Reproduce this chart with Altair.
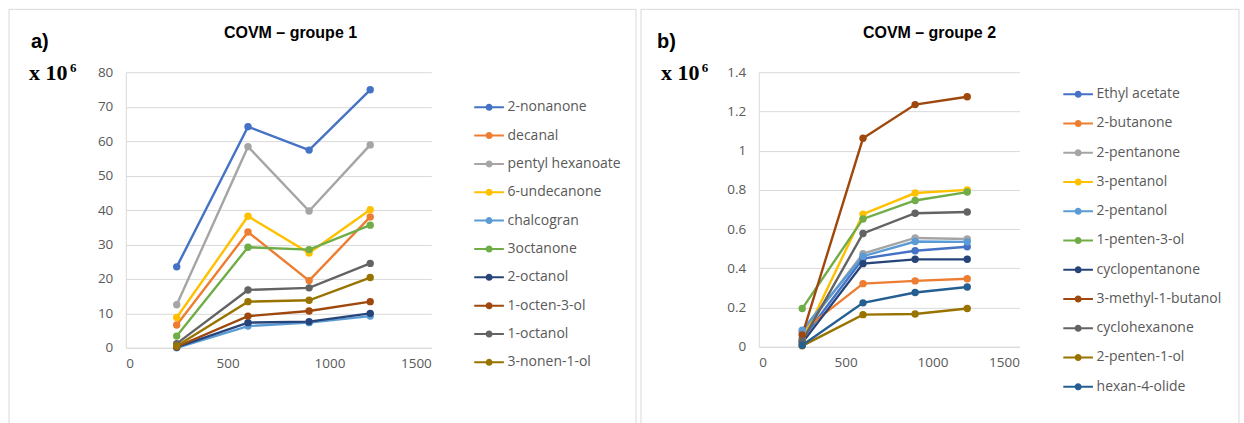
import altair as alt
import pandas as pd

x_vals = [250, 600, 900, 1200]

names1 = ["2-nonanone", "decanal", "pentyl hexanoate", "6-undecanone", "chalcogran",
          "3octanone", "2-octanol", "1-octen-3-ol", "1-octanol", "3-nonen-1-ol"]
vals1 = [
    [23.5, 64.2, 57.4, 74.9],
    [6.6, 33.6, 19.5, 38.0],
    [12.5, 58.4, 39.7, 58.9],
    [8.8, 38.2, 27.5, 40.1],
    [0.0, 6.3, 7.3, 9.2],
    [3.4, 29.2, 28.5, 35.6],
    [0.2, 7.3, 7.6, 10.0],
    [0.3, 9.2, 10.7, 13.4],
    [1.2, 16.8, 17.4, 24.5],
    [0.5, 13.4, 13.8, 20.4],
]

names2 = ["Ethyl acetate", "2-butanone", "2-pentanone", "3-pentanol", "2-pentanol",
          "1-penten-3-ol", "cyclopentanone", "3-methyl-1-butanol", "cyclohexanone",
          "2-penten-1-ol", "hexan-4-olide"]
vals2 = [
    [0.04, 0.45, 0.49, 0.51],
    [0.08, 0.322, 0.336, 0.347],
    [0.07, 0.475, 0.555, 0.55],
    [0.03, 0.676, 0.784, 0.80],
    [0.085, 0.462, 0.537, 0.535],
    [0.195, 0.652, 0.746, 0.789],
    [0.02, 0.424, 0.446, 0.446],
    [0.06, 1.063, 1.235, 1.275],
    [0.03, 0.578, 0.681, 0.687],
    [0.005, 0.164, 0.167, 0.195],
    [0.008, 0.224, 0.277, 0.305],
]

palette = ["#4472C4", "#ED7D31", "#A5A5A5", "#FFC000", "#5B9BD5", "#70AD47",
           "#264478", "#9E480E", "#636363", "#997300", "#255E91"]

GRID = "#d9d9d9"
LABEL = "#595959"
FONT = "Open Sans"
SYM = ("M-1.1,0H1.1M0.185,0A0.185,0.185 0 1,1 -0.185,0A0.185,0.185 0 1,1 0.185,0"
       "M0.07,0A0.07,0.07 0 1,1 -0.07,0A0.07,0.07 0 1,1 0.07,0")


def long_df(names, vals):
    rows = []
    for n, v in zip(names, vals):
        for xv, yv in zip(x_vals, v):
            rows.append({"temp": xv, "val": yv, "serie": n})
    return pd.DataFrame(rows)


def panel(names, vals, w, h, ymax, ystep, yfmt, leg_x, leg_y, row_pad,
          letter, title, border_x, border_x2, letter_x, title_x, x10_x):
    df = long_df(names, vals)
    nvals = int(round(ymax / ystep))
    yticks = [round(i * ystep, 4) for i in range(nvals + 1)]
    xenc = alt.X("temp:Q", scale=alt.Scale(domain=[0, 1500], nice=False),
                 axis=alt.Axis(values=[0, 500, 1000, 1500], format="d", title=None,
                               grid=False, ticks=False, domain=True, domainColor=GRID,
                               labelColor=LABEL, labelFont=FONT, labelFontSize=13.5,
                               labelPadding=9))
    yenc = alt.Y("val:Q", scale=alt.Scale(domain=[0, ymax], nice=False),
                 axis=alt.Axis(values=yticks, format=yfmt, title=None, grid=True,
                               gridColor=GRID, ticks=False, domain=True,
                               domainColor=GRID, labelColor=LABEL, labelFont=FONT,
                               labelFontSize=13.5, labelPadding=13))
    cscale = alt.Scale(domain=names, range=palette[:len(names)])
    legend = alt.Legend(title=None, orient="none", legendX=leg_x, legendY=leg_y,
                        direction="vertical", padding=0, rowPadding=row_pad,
                        symbolType=SYM, symbolSize=729, symbolStrokeWidth=2,
                        symbolOpacity=1, labelOffset=4, labelFont=FONT,
                        labelFontSize=14, labelColor=LABEL, labelLimit=300)
    base = alt.Chart(df)
    lines = base.mark_line(strokeWidth=2.4).encode(
        x=xenc, y=yenc,
        color=alt.Color("serie:N", scale=cscale, legend=legend, sort=names),
        detail="serie:N")
    pts = base.mark_circle(size=55, opacity=1).encode(
        x=xenc, y=yenc,
        color=alt.Color("serie:N", scale=cscale, legend=legend, sort=names))

    one = pd.DataFrame({"t": [letter], "u": [title], "v": ["x 10"], "s": ["6"]})
    tb = alt.Chart(one)
    border = tb.mark_rect(fill="transparent", stroke=GRID, strokeWidth=1).encode(
        x=alt.value(border_x), x2=alt.value(border_x2),
        y=alt.value(-63), y2=alt.value(362))
    letter_t = tb.mark_text(font="Liberation Sans", fontWeight="bold",
                            fontSize=20, align="left", baseline="alphabetic",
                            color="#000000").encode(
        x=alt.value(letter_x), y=alt.value(-24), text="t:N")
    title_t = tb.mark_text(font="Liberation Sans", fontWeight="bold",
                           fontSize=16, align="center", baseline="alphabetic",
                           color="#000000").encode(
        x=alt.value(title_x), y=alt.value(-34), text="u:N")
    x10_t = tb.mark_text(font="Liberation Serif", fontWeight="bold", fontSize=22,
                         align="left", baseline="alphabetic",
                         color="#000000").encode(
        x=alt.value(x10_x), y=alt.value(8), text="v:N")
    six_t = tb.mark_text(font="Liberation Serif", fontWeight="bold", fontSize=13,
                         align="left", baseline="alphabetic",
                         color="#000000").encode(
        x=alt.value(x10_x + 41), y=alt.value(0), text="s:N")

    return alt.layer(border, lines, pts, letter_t, title_t, x10_t, six_t).properties(
        width=w, height=h)


p1 = panel(names1, vals1, 306, 276, 80, 10, "d", 349.35, 20.5, 6.4,
           "a)", "COVM \u2013 groupe 1", -117, 511, -95, 165, -97)
p2 = panel(names2, vals2, 261, 275, 1.4, 0.2, "~g", 305.35, 7.5, 7.3,
           "b)", "COVM \u2013 groupe 2", -118, 481, -102, 171, -98)

chart = alt.hconcat(p1, p2, spacing=328, bounds="flush").resolve_scale(
    color="independent", x="independent", y="independent"
).resolve_legend(color="independent").properties(
    padding={"left": 8, "top": 8, "right": 4, "bottom": 0},
    background="white",
).configure_view(stroke=None)

chart.save("out.html", embed_options={"renderer": "svg", "actions": False})
